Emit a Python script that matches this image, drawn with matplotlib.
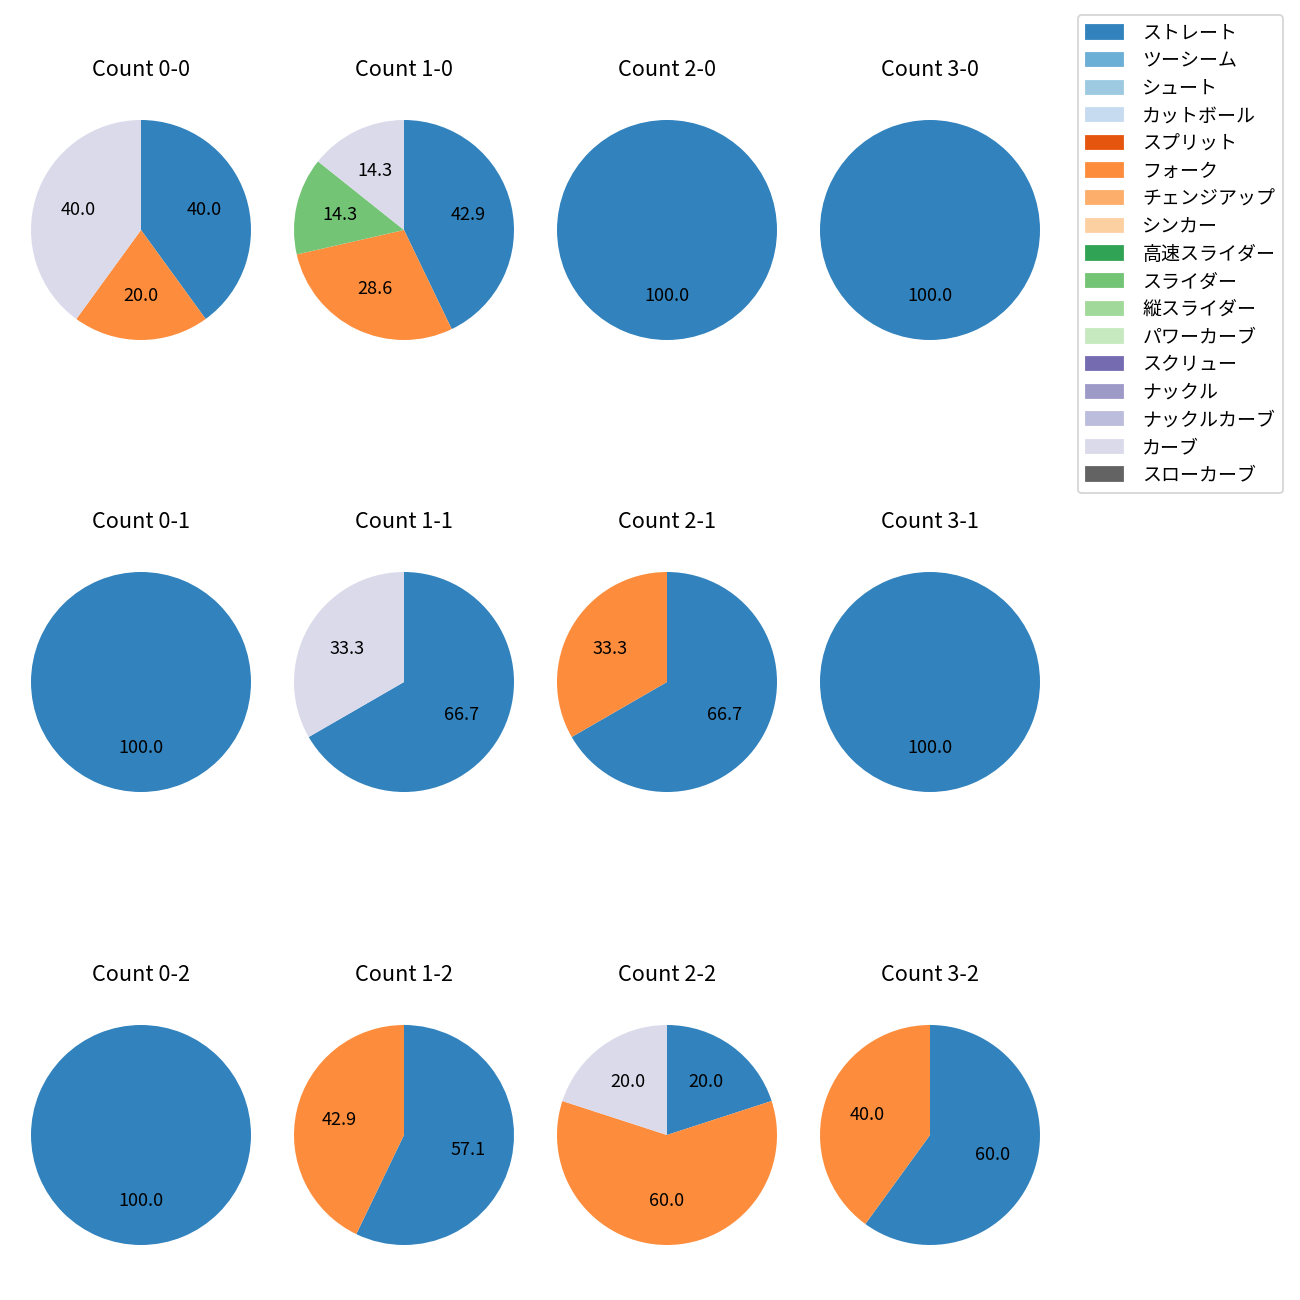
import matplotlib
matplotlib.use("Agg")
import matplotlib.pyplot as plt
import matplotlib.patches as patches
import numpy as np

plt.rcParams['font.family'] = ['Noto Sans CJK JP', 'DejaVu Sans']

pitch_types = ["ストレート", "ツーシーム", "シュート", "カットボール", "スプリット", "フォーク",
               "チェンジアップ", "シンカー", "高速スライダー", "スライダー", "縦スライダー",
               "パワーカーブ", "スクリュー", "ナックル", "ナックルカーブ", "カーブ", "スローカーブ"]

# pitch counts per ball-strike count (order follows pitch_types)
count_titles = ["Count 0-0", "Count 1-0", "Count 2-0", "Count 3-0",
                "Count 0-1", "Count 1-1", "Count 2-1", "Count 3-1",
                "Count 0-2", "Count 1-2", "Count 2-2", "Count 3-2"]
straight = [2, 3, 1, 1, 1, 2, 2, 1, 1, 4, 1, 3]
fork     = [1, 2, 0, 0, 0, 0, 1, 0, 0, 3, 3, 2]
slider   = [0, 1, 0, 0, 0, 0, 0, 0, 0, 0, 0, 0]
curve    = [2, 1, 0, 0, 0, 1, 0, 0, 0, 0, 1, 0]

series = {"ストレート": straight, "フォーク": fork, "スライダー": slider, "カーブ": curve}

cmap = plt.get_cmap("tab20c")
colors = {name: cmap(i) for i, name in enumerate(pitch_types)}

fig = plt.figure(figsize=(10, 10), dpi=130)
W, H = 1300, 1300
side = 275
col_centers = [141, 404, 667, 930]
row_centers = [230, 682, 1135]

for idx, title in enumerate(count_titles):
    r, c = divmod(idx, 4)
    cx, cy = col_centers[c], row_centers[r]
    ax = fig.add_axes([(cx - side / 2) / W, 1 - (cy + side / 2) / H, side / W, side / H])
    vals, cols = [], []
    for name in pitch_types:
        if name in series and series[name][idx] > 0:
            vals.append(series[name][idx])
            cols.append(colors[name])
    ax.pie(vals, colors=cols, startangle=90, counterclock=False, autopct="%.1f",
           textprops={"fontsize": 10})
    ax.set_title(title, fontsize=12, pad=9)

handles = [patches.Patch(color=colors[name], label=name) for name in pitch_types]
fig.legend(handles=handles, loc="upper right", bbox_to_anchor=(1283 / W, 1 - 15 / H),
           borderaxespad=0, fontsize=10.5, labelspacing=0.35, handletextpad=1.0)

plt.savefig("out.png", dpi=130)
